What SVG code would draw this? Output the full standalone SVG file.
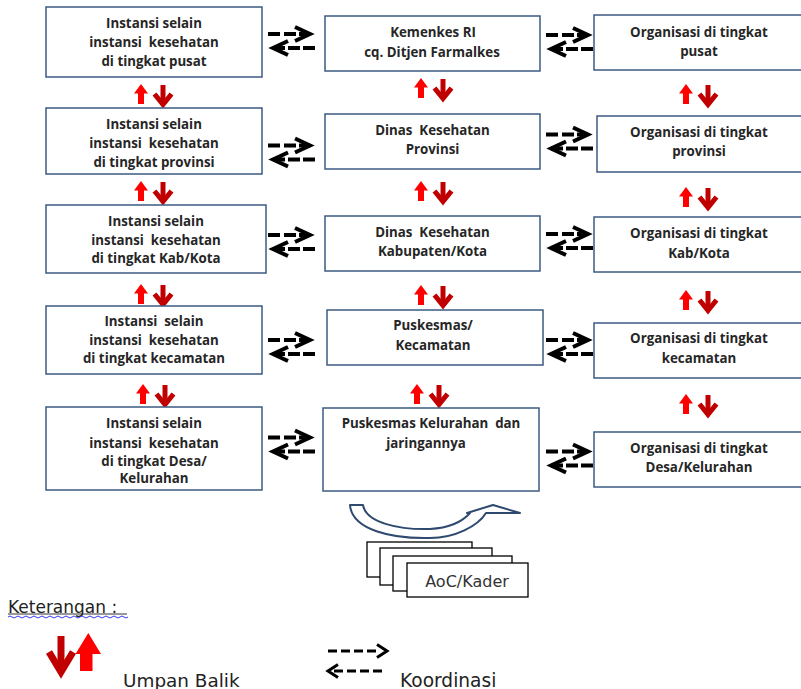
<svg xmlns="http://www.w3.org/2000/svg" xmlns:xlink="http://www.w3.org/1999/xlink" width="801" height="689" viewBox="0 0 801 689">
<style>
.box{fill:#fff;stroke:#3B5A82;stroke-width:1.5}
.t{font-family:"Open Sans","Liberation Sans",sans-serif;font-weight:700;font-size:13.3px;fill:#262626;text-anchor:middle;white-space:pre}
.ln{fill:none;stroke:#000;stroke-width:4}
.chev{fill:none;stroke:#000;stroke-width:4;stroke-linejoin:miter}
.lg{font-family:"DejaVu Sans","Liberation Sans",sans-serif;fill:#222}
.stk{fill:#fff;stroke:#000;stroke-width:1.3}
</style>
<defs>
<g id="co">
<path class="ln" d="M0,0 H12 M16,0 H28 M31,0 H42"/>
<path class="chev" d="M27,-7 L42,0 L27,7"/>
<path class="ln" d="M5,14 H17 M20,14 H32 M35,14 H47"/>
<path class="chev" d="M20,7 L5,14 L20,21"/>
</g>
<g id="fb">
<polygon points="6,0 13,9.5 9,9.5 9,20 3,20 3,9.5 -1,9.5" fill="#FF0000"/>
<path d="M28,1 V20" stroke="#C00000" stroke-width="5" fill="none"/>
<path d="M19.5,10 L28,20.5 L36.5,10" stroke="#C00000" stroke-width="5" fill="none"/>
</g>
</defs>
<rect width="801" height="689" fill="#fff"/>

<g id="connectors">
<use xlink:href="#co" x="268" y="34"/>
<use xlink:href="#co" x="268" y="145.5"/>
<use xlink:href="#co" x="268" y="235"/>
<use xlink:href="#co" x="268" y="340"/>
<use xlink:href="#co" x="268" y="437.5"/>
<use xlink:href="#co" x="546" y="35"/>
<use xlink:href="#co" x="546" y="134.5"/>
<use xlink:href="#co" x="546" y="234"/>
<use xlink:href="#co" x="546" y="340"/>
<use xlink:href="#co" x="546" y="451.5"/>
<use xlink:href="#fb" x="135" y="84"/>
<use xlink:href="#fb" x="135" y="181"/>
<use xlink:href="#fb" x="135" y="284"/>
<use xlink:href="#fb" x="137" y="384"/>
<use xlink:href="#fb" x="415" y="78"/>
<use xlink:href="#fb" x="415" y="181"/>
<use xlink:href="#fb" x="415" y="285"/>
<use xlink:href="#fb" x="411" y="384"/>
<use xlink:href="#fb" x="680" y="84"/>
<use xlink:href="#fb" x="680" y="187"/>
<use xlink:href="#fb" x="680" y="290"/>
<use xlink:href="#fb" x="680" y="394"/>
</g>

<g id="L1"><rect class="box" x="46" y="7" width="216" height="70"/>
<text class="t" x="154" y="28">Instansi selain</text><text class="t" x="154" y="47">instansi  kesehatan</text><text class="t" x="154" y="66">di tingkat pusat</text></g>
<g id="L2"><rect class="box" x="46" y="108" width="216" height="66"/>
<text class="t" x="154" y="129">Instansi selain</text><text class="t" x="154" y="148">instansi  kesehatan</text><text class="t" x="154" y="167">di tingkat provinsi</text></g>
<g id="L3"><rect class="box" x="46" y="205" width="220" height="68"/>
<text class="t" x="156" y="226">Instansi selain</text><text class="t" x="156" y="245">instansi  kesehatan</text><text class="t" x="156" y="263">di tingkat Kab/Kota</text></g>
<g id="L4"><rect class="box" x="46" y="306" width="216" height="68"/>
<text class="t" x="154" y="326">Instansi  selain</text><text class="t" x="154" y="345">instansi  kesehatan</text><text class="t" x="154" y="363">di tingkat kecamatan</text></g>
<g id="L5"><rect class="box" x="46" y="407" width="216" height="83"/>
<text class="t" x="154" y="428">Instansi selain</text><text class="t" x="154" y="448">instansi  kesehatan</text><text class="t" x="154" y="466">di tingkat Desa/</text><text class="t" x="154" y="483">Kelurahan</text></g>

<g id="M1"><rect class="box" x="325" y="16" width="215" height="55"/>
<text class="t" x="433" y="37">Kemenkes RI</text><text class="t" x="432" y="56.5">cq. Ditjen Farmalkes</text></g>
<g id="M2"><rect class="box" x="325" y="114" width="215" height="55"/>
<text class="t" x="432.5" y="135">Dinas  Kesehatan</text><text class="t" x="432.5" y="154">Provinsi</text></g>
<g id="M3"><rect class="box" x="325" y="216" width="215" height="55"/>
<text class="t" x="432.5" y="236.5">Dinas  Kesehatan</text><text class="t" x="432.5" y="256">Kabupaten/Kota</text></g>
<g id="M4"><rect class="box" x="327" y="310" width="216" height="55"/>
<text class="t" x="433" y="330">Puskesmas/</text><text class="t" x="433" y="350">Kecamatan</text></g>
<g id="M5"><rect class="box" x="323" y="408" width="216" height="83"/>
<text class="t" x="431" y="428">Puskesmas Kelurahan  dan</text><text class="t" x="426" y="447.5">jaringannya</text></g>

<g id="R1"><rect class="box" x="594" y="15" width="210" height="55"/>
<text class="t" x="699" y="36.5">Organisasi di tingkat</text><text class="t" x="699" y="56">pusat</text></g>
<g id="R2"><rect class="box" x="597" y="116" width="207" height="56"/>
<text class="t" x="699" y="136.5">Organisasi di tingkat</text><text class="t" x="699" y="155.5">provinsi</text></g>
<g id="R3"><rect class="box" x="594" y="217" width="210" height="55"/>
<text class="t" x="699" y="238">Organisasi di tingkat</text><text class="t" x="699" y="257.5">Kab/Kota</text></g>
<g id="R4"><rect class="box" x="594" y="323" width="210" height="55"/>
<text class="t" x="699" y="343">Organisasi di tingkat</text><text class="t" x="699" y="363">kecamatan</text></g>
<g id="R5"><rect class="box" x="594" y="432" width="210" height="55"/>
<text class="t" x="699" y="453">Organisasi di tingkat</text><text class="t" x="699" y="472">Desa/Kelurahan</text></g>

<g id="cycle">
<path d="M350,505 L363,505 C366,523 400,530 430,529 C448,528 462,522 470,513 L467,513 L493,505 L520,513 L486,513 C478,526 455,538 430,538 C392,539 352,530 350,505 Z" fill="#fff" stroke="#2E4A6E" stroke-width="2" stroke-linejoin="round"/>
</g>
<g id="AoC">
<rect class="stk" x="367" y="542" width="105" height="35"/>
<rect class="stk" x="380" y="548" width="112" height="37"/>
<rect class="stk" x="393" y="556" width="119" height="35"/>
<rect class="stk" x="407" y="563" width="121" height="34"/>
<text x="467" y="587" font-family="DejaVu Sans, Liberation Sans, sans-serif" font-size="16" fill="#333" text-anchor="middle">AoC/Kader</text>
</g>

<g id="legend">
<text class="lg" x="8" y="612.5" font-size="17">Keterangan :</text>
<line x1="8" y1="614" x2="127" y2="614" stroke="#333" stroke-width="1"/>
<path d="M8,617 q2,-2 4,0 t4,0 t4,0 t4,0 t4,0 t4,0 t4,0 t4,0 t4,0 t4,0 t4,0 t4,0 t4,0 t4,0 t4,0 t4,0 t4,0 t4,0 t4,0 t4,0 t4,0 t4,0 t4,0 t4,0 t4,0 t4,0 t4,0 t4,0 t4,0 t4,0" fill="none" stroke="#3A3AF0" stroke-width="1"/>
<path d="M61,636 V671" stroke="#C00000" stroke-width="7" fill="none"/>
<path d="M49,652 L61,672 L73,652" stroke="#C00000" stroke-width="7" fill="none"/>
<polygon points="88.3,633 101,654 92.5,654 92.5,671 80,671 80,654 75.5,654" fill="#FF0000"/>
<text class="lg" x="123" y="686.5" font-size="18.4">Umpan Balik</text>
<path d="M328,651 H376" fill="none" stroke="#000" stroke-width="3" stroke-dasharray="9 4"/>
<path d="M377,644.5 L387,651 L377,657.5" fill="none" stroke="#000" stroke-width="3"/>
<path d="M382,671 H331" fill="none" stroke="#000" stroke-width="3" stroke-dasharray="9 4"/>
<path d="M338,664.5 L328,671 L338,677.5" fill="none" stroke="#000" stroke-width="3"/>
<text class="lg" x="400" y="686.5" font-size="18.6">Koordinasi</text>
</g>
</svg>
